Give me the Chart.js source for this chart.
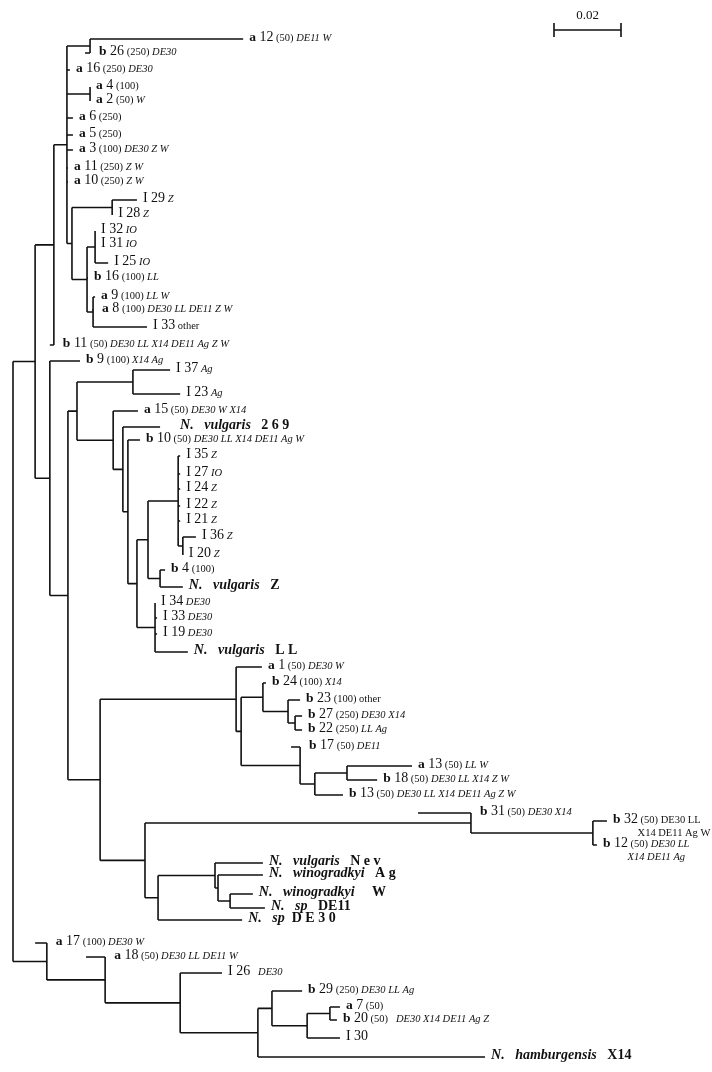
<!DOCTYPE html>
<html lang="en">
<head>
    <meta charset="UTF-8">
    <title>Phylogenetic tree</title>
    <script src="https://cdn.jsdelivr.net/npm/chart.js"></script>
    <style>
        html, body { margin: 0; padding: 0; background: #fff; }
    </style>
</head>
<body>
<canvas id="treeChart" width="712" height="1072"></canvas>
<script>
// internal nodes: [name, parent, distance from root]
const branchPoints = [
    ['root', null, 0],
    ['B', 'root', 0.0066], ['A', 'B', 0.0122], ['F', 'A', 0.0161],
    ['N1', 'F', 0.0230], ['N2', 'F', 0.0230], ['E', 'F', 0.0176],
    ['N3', 'E', 0.0296], ['J', 'E', 0.0221], ['K', 'J', 0.0245], ['L', 'J', 0.0239],
    ['C', 'B', 0.0110], ['M', 'C', 0.0164], ['N', 'M', 0.0191], ['N4', 'N', 0.0358],
    ['O', 'N', 0.0299], ['P1', 'O', 0.0328], ['Q1', 'P1', 0.0343], ['R1', 'Q1', 0.0370],
    ['S', 'R1', 0.0403], ['U', 'S', 0.0493], ['W', 'U', 0.0507], ['V', 'S', 0.0439],
    ['T', 'R1', 0.0424],
    ['P', 'M', 0.0260], ['X', 'P', 0.0666], ['X2', 'X', 0.0681], ['X3', 'X2', 0.0746],
    ['X5', 'X3', 0.0821], ['X6', 'X5', 0.0842], ['X4', 'X2', 0.0857], ['X7', 'X4', 0.0901],
    ['X8', 'X7', 0.0997],
    ['Y', 'P', 0.0394], ['Z1', 'Y', 0.1367], ['Z3', 'Z1', 0.1731], ['Z2', 'Y', 0.0433],
    ['Z4', 'Z2', 0.0603], ['Z5', 'Z4', 0.0612], ['Z6', 'Z5', 0.0648],
    ['Q', 'root', 0.0101], ['Q2', 'Q', 0.0275], ['Q3', 'Q2', 0.0499], ['Q4', 'Q3', 0.0731],
    ['Q5', 'Q4', 0.0773], ['Q6', 'Q5', 0.0878], ['Q7', 'Q6', 0.0946]
];

// tips: [parent, distance from root, row, label]
// label styles: B bold, R regular, s small, i small italic, S species italic, T species bold
const tips = [
    ['N1', 0.0687, 39, 'Ba|R 12|s (50)|i DE11 W'],
    ['N1', 0.0215, 53, 'Bb|R 26|s (250)|i DE30'],
    ['F', 0.0170, 70, 'Ba|R 16|s (250)|i DE30'],
    ['N2', 0.0230, 87, 'Ba|R 4|s (100)'],
    ['N2', 0.0230, 101, 'Ba|R 2|s (50)|i W'],
    ['F', 0.0179, 118, 'Ba|R 6|s (250)'],
    ['F', 0.0179, 135, 'Ba|R 5|s (250)'],
    ['F', 0.0179, 150, 'Ba|R 3|s (100)|i DE30 Z W'],
    ['F', 0.0164, 168, 'Ba|R 11|s (250)|i Z W'],
    ['F', 0.0164, 182, 'Ba|R 10|s (250)|i Z W'],
    ['N3', 0.0370, 200, 'RI 29|i Z'],
    ['N3', 0.0296, 215, 'RI 28|i Z'],
    ['K', 0.0245, 231, 'RI 32|i IO'],
    ['K', 0.0245, 245, 'RI 31|i IO'],
    ['K', 0.0284, 263, 'RI 25|i IO'],
    ['J', 0.0224, 278, 'Bb|R 16|s (100)|i LL'],
    ['L', 0.0245, 297, 'Ba|R 9|s (100)|i LL W'],
    ['L', 0.0236, 310, 'Ba|R 8|s (100)|i DE30 LL DE11 Z W'],
    ['L', 0.0400, 327, 'RI 33|s other'],
    ['A', 0.0110, 345, 'Bb|R 11|s (50)|i DE30 LL X14 DE11 Ag Z W'],
    ['C', 0.0200, 361, 'Bb|R 9|s (100)|i X14 Ag'],
    ['N4', 0.0469, 370, 'RI 37|i Ag'],
    ['N4', 0.0499, 394, 'RI 23|i Ag'],
    ['O', 0.0373, 411, 'Ba|R 15|s (50)|i DE30 W X14'],
    ['P1', 0.0439, 427, 'S    N.   vulgaris|T   2 6 9'],
    ['Q1', 0.0379, 440, 'Bb|R 10|s (50)|i DE30 LL X14 DE11 Ag W'],
    ['U', 0.0499, 456, 'RI 35|i Z'],
    ['U', 0.0499, 474, 'RI 27|i IO'],
    ['U', 0.0499, 489, 'RI 24|i Z'],
    ['U', 0.0499, 506, 'RI 22|i Z'],
    ['U', 0.0499, 521, 'RI 21|i Z'],
    ['W', 0.0546, 537, 'RI 36|i Z'],
    ['W', 0.0507, 555, 'RI 20|i Z'],
    ['V', 0.0454, 570, 'Bb|R 4|s (100)'],
    ['V', 0.0507, 587, 'SN.   vulgaris|T   Z'],
    ['T', 0.0424, 603, 'RI 34|i DE30'],
    ['T', 0.0430, 618, 'RI 33|i DE30'],
    ['T', 0.0430, 634, 'RI 19|i DE30'],
    ['T', 0.0522, 652, 'SN.   vulgaris|T   L L'],
    ['X', 0.0743, 667, 'Ba|R 1|s (50)|i DE30 W'],
    ['X3', 0.0755, 683, 'Bb|R 24|s (100)|i X14'],
    ['X5', 0.0857, 700, 'Bb|R 23|s (100)|s other'],
    ['X6', 0.0863, 716, 'Bb|R 27|s (250)|i DE30 X14'],
    ['X6', 0.0863, 730, 'Bb|R 22|s (250)|i LL Ag'],
    ['X4', 0.0830, 747, 'Bb|R 17|s (50)|i DE11'],
    ['X8', 0.1191, 766, 'Ba|R 13|s (50)|i LL W'],
    ['X8', 0.1087, 780, 'Bb|R 18|s (50)|i DE30 LL X14 Z W'],
    ['X7', 0.0985, 795, 'Bb|R 13|s (50)|i DE30 LL X14 DE11 Ag Z W'],
    ['Z1', 0.1209, 813, 'Bb|R 31|s (50)|i DE30 X14'],
    ['Z3', 0.1773, 821, 'Bb|R 32|s (50) DE30 LL\ns X14 DE11 Ag W'],
    ['Z3', 0.1743, 845, 'Bb|R 12|s (50)|i DE30 LL\ni X14 DE11 Ag'],
    ['Z4', 0.0746, 863, 'SN.   vulgaris|T   N e v'],
    ['Z5', 0.0746, 875, 'SN.   winogradkyi|T   A g'],
    ['Z6', 0.0716, 894, 'SN.   winogradkyi|T     W'],
    ['Z6', 0.0752, 908, 'SN.   sp|T   DE11'],
    ['Z2', 0.0684, 920, 'SN.   sp|T  D E 3 0'],
    ['Q', 0.0066, 943, 'Ba|R 17|s (100)|i DE30 W'],
    ['Q2', 0.0218, 957, 'Ba|R 18|s (50)|i DE30 LL DE11 W'],
    ['Q3', 0.0624, 973, 'RI 26|i   DE30'],
    ['Q5', 0.0863, 991, 'Bb|R 29|s (250)|i DE30 LL Ag'],
    ['Q7', 0.0976, 1007, 'Ba|R 7|s (50)'],
    ['Q7', 0.0967, 1020, 'Bb|R 20|s (50)|i   DE30 X14 DE11 Ag Z'],
    ['Q6', 0.0976, 1038, 'RI 30'],
    ['Q4', 0.1409, 1057, 'SN.   hamburgensis|T   X14']
];

const scaleBarLength = 0.02;

// --- build the tree layout from the arrays above ---
const nodeX = {}, kids = {};
branchPoints.forEach(([name, parent, d]) => {
    nodeX[name] = d;
    kids[name] = [];
});
branchPoints.forEach(([name, parent]) => { if (parent) kids[parent].push({ node: name }); });
tips.forEach((t, i) => kids[t[0]].push({ tip: i }));

const nodeY = {}, spanY = {};
function placeY(name) {
    const ys = kids[name].map(k => k.tip !== undefined ? tips[k.tip][2] : placeY(k.node));
    const lo = Math.min(...ys), hi = Math.max(...ys);
    spanY[name] = [lo, hi];
    nodeY[name] = (lo + hi) / 2;
    return nodeY[name];
}
placeY('root');

const gap = { x: NaN, y: NaN };
const horizontals = [], verticals = [];
branchPoints.forEach(([name, parent]) => {
    if (parent) horizontals.push({ x: nodeX[parent], y: nodeY[name] }, { x: nodeX[name], y: nodeY[name] }, gap);
    verticals.push({ x: nodeX[name], y: spanY[name][0] }, { x: nodeX[name], y: spanY[name][1] }, gap);
});
tips.forEach(([parent, d, row]) => {
    horizontals.push({ x: nodeX[parent], y: row }, { x: d, y: row }, gap);
});

const fonts = {
    B: 'bold 13.5px "Liberation Serif"',
    R: '14px "Liberation Serif"',
    s: '10.5px "Liberation Serif"',
    i: 'italic 10.5px "Liberation Serif"',
    S: 'bold italic 14px "Liberation Serif"',
    T: 'bold 14px "Liberation Serif"'
};

const labelPlugin = {
    id: 'tipLabels',
    afterDatasetsDraw(chart) {
        const ctx = chart.ctx;
        const xs = chart.scales.x, ys = chart.scales.y;
        ctx.save();
        ctx.fillStyle = '#111';
        ctx.textBaseline = 'alphabetic';
        tips.forEach(([parent, d, row, label]) => {
            const behind = d < nodeX[parent];
            const x0 = xs.getPixelForValue(Math.max(d, nodeX[parent])) + (behind ? 9 : 6);
            const y0 = ys.getPixelForValue(row) + 1.5;
            label.split('\n').forEach((line, li) => {
                let x = x0 + (li ? 22 : 0);
                const y = y0 + li * 13;
                line.split('|').forEach(seg => {
                    ctx.font = fonts[seg[0]];
                    const txt = seg.slice(1);
                    ctx.fillText(txt, x, y);
                    x += ctx.measureText(txt).width;
                });
            });
        });
        // scale bar
        const len = xs.getPixelForValue(scaleBarLength) - xs.getPixelForValue(0);
        const bx = chart.chartArea.right - 158, by = 30;
        ctx.strokeStyle = '#111';
        ctx.lineWidth = 1.6;
        ctx.beginPath();
        ctx.moveTo(bx, by); ctx.lineTo(bx + len, by);
        ctx.moveTo(bx, by - 7); ctx.lineTo(bx, by + 7);
        ctx.moveTo(bx + len, by - 7); ctx.lineTo(bx + len, by + 7);
        ctx.stroke();
        ctx.font = '13px "Liberation Serif"';
        ctx.textAlign = 'center';
        ctx.fillText(String(scaleBarLength), bx + len / 2, by - 11);
        ctx.restore();
    }
};

const lineStyle = { showLine: true, pointRadius: 0, borderColor: '#111', borderWidth: 1.6, spanGaps: false };
new Chart(document.getElementById('treeChart').getContext('2d'), {
    type: 'scatter',
    data: {
        datasets: [
            Object.assign({ label: 'branches', data: horizontals }, lineStyle),
            Object.assign({ label: 'nodes', data: verticals }, lineStyle)
        ]
    },
    options: {
        responsive: false,
        animation: false,
        devicePixelRatio: 1,
        layout: { padding: 0 },
        plugins: { legend: { display: false }, tooltip: { enabled: false } },
        scales: {
            x: { type: 'linear', display: false, min: -13 / 3350, max: 699 / 3350 },
            y: { type: 'linear', display: false, min: 0, max: 1072, reverse: true }
        }
    },
    plugins: [labelPlugin]
});
</script>
</body>
</html>
